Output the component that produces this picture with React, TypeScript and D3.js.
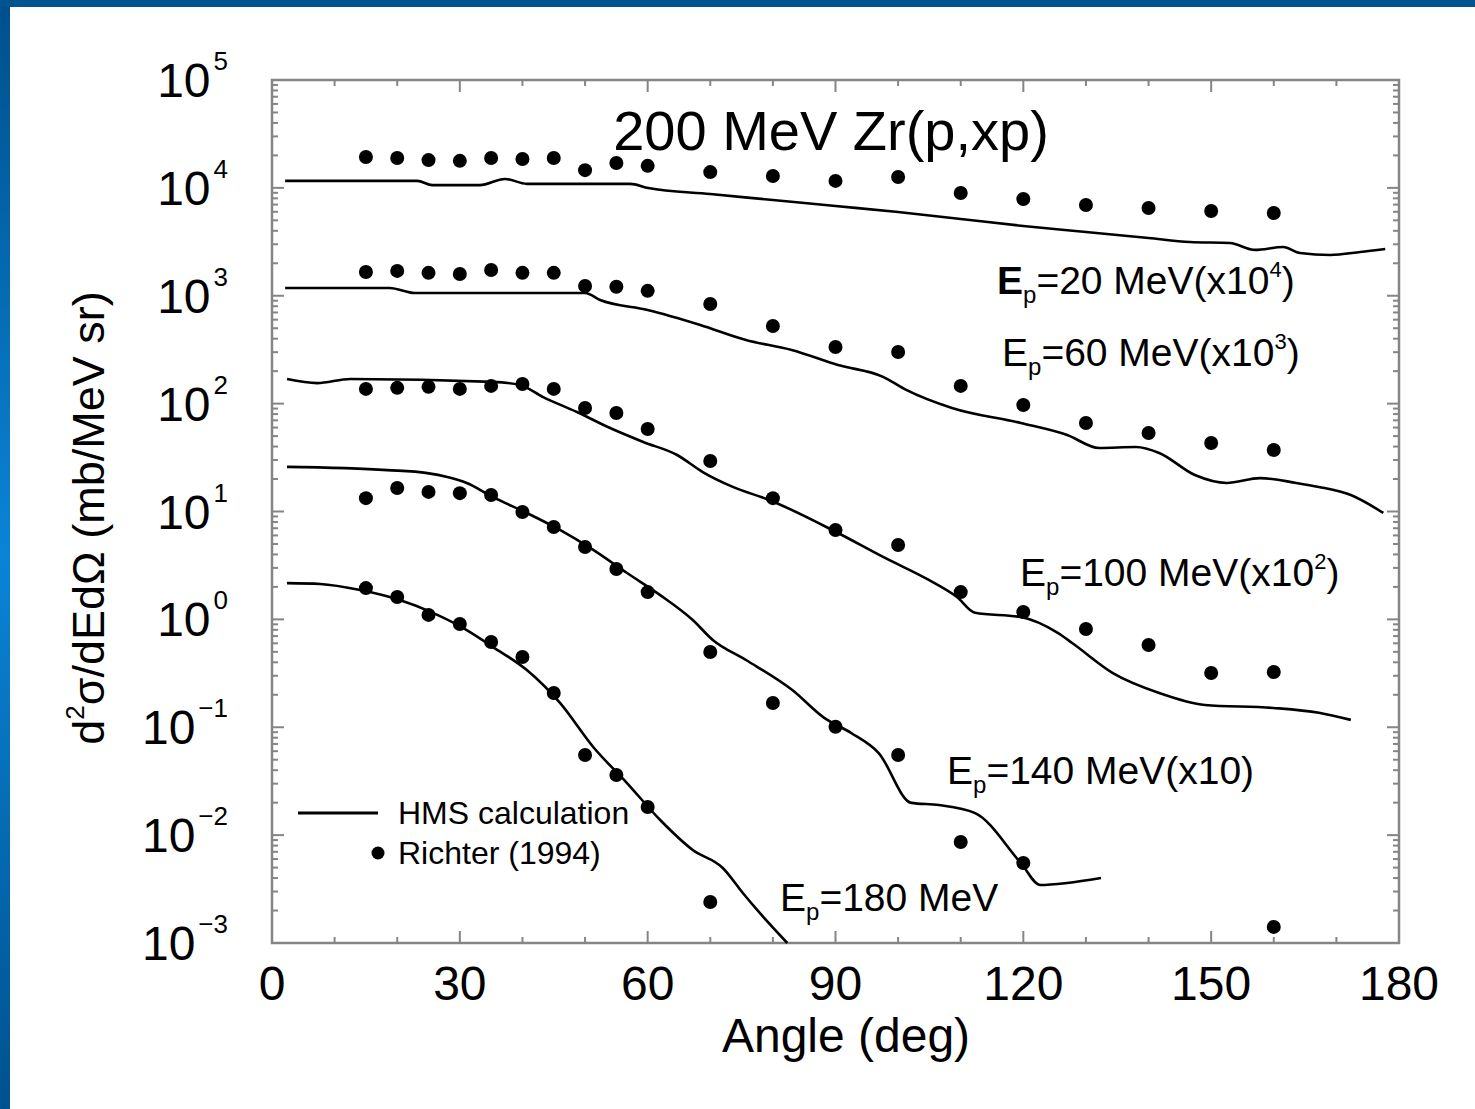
import React, { useEffect, useRef } from 'react';
import * as d3 from 'd3';

// Richter (1994) data, already multiplied by the plotted factors
const angles = [15, 20, 25, 30, 35, 40, 45, 50, 55, 60, 70, 80, 90, 100, 110, 120, 130, 140, 150, 160];
const richter20 = [1.93e4, 1.89e4, 1.81e4, 1.78e4, 1.89e4, 1.85e4, 1.89e4, 1.46e4, 1.70e4, 1.60e4, 1.40e4, 1.29e4, 1.16e4, 1.26e4, 8.97e3, 7.89e3, 6.94e3, 6.51e3, 6.10e3, 5.85e3];
const richter60 = [1.66e3, 1.70e3, 1.63e3, 1.59e3, 1.73e3, 1.63e3, 1.63e3, 1.23e3, 1.21e3, 1.11e3, 838, 524, 335, 301, 146, 97.1, 66.1, 53.4, 43.2, 37.2];
const richter100 = [137, 140, 143, 137, 146, 152, 137, 91.1, 81.9, 58.2, 29.4, 13.3, 6.74, 4.89, 1.79, 1.17, 0.814, 0.579, 0.318, 0.325];
const angles140 = [15, 20, 25, 30, 35, 40, 45, 50, 55, 60, 70, 80, 90, 100, 110, 120, 160];
const richter140 = [13.3, 16.5, 15.2, 14.8, 14.2, 9.89, 7.18, 4.69, 2.93, 1.79, 0.498, 0.168, 0.101, 0.0553, 0.00864, 0.00552, 0.00141];
const angles180 = [15, 20, 25, 30, 35, 40, 45, 50, 55, 60, 70];
const richter180 = [1.95, 1.61, 1.10, 0.906, 0.617, 0.448, 0.208, 0.0553, 0.0361, 0.0182, 0.00240];

// HMS calculation curves: [angle, value]
const hms20 = [[2.1, 1.16e4], [23.2, 1.16e4], [25.6, 1.06e4], [33.2, 1.06e4], [37.2, 1.21e4], [40.7, 1.09e4], [57.2, 1.09e4], [60.1, 9.97e3], [70, 8.77e3], [80, 7.72e3], [90, 6.79e3], [100, 5.97e3], [110, 5.15e3], [120, 4.43e3], [130, 3.90e3], [140, 3.43e3], [146.6, 3.15e3], [153, 3.08e3], [157, 2.66e3], [161.5, 2.83e3], [164.2, 2.49e3], [169, 2.39e3], [173.8, 2.54e3], [177.8, 2.71e3]];
const hms60 = [[2.1, 1180], [18.8, 1180], [22.8, 1060], [50, 1060], [52.4, 913], [60, 738], [68.4, 536], [75.7, 389], [83, 314], [90.4, 228], [97.6, 177], [101.3, 134], [108.6, 91.1], [119.6, 66.1], [127, 51.2], [132.1, 38.8], [138, 39.6], [141.7, 34.9], [147.4, 21.8], [152.5, 18.4], [157.8, 20.4], [163.6, 18.4], [167.2, 16.9], [172.3, 14.2], [177.5, 9.69]];
const hms100 = [[2.4, 169], [7.2, 155], [12.5, 169], [35.3, 159], [39.6, 149], [43.3, 115], [48.7, 83.6], [54, 59.4], [59.3, 44.1], [64.7, 33.4], [68.8, 23.2], [73.6, 16.9], [79.4, 12.8], [90.4, 6.32], [97.6, 3.79], [104.9, 2.32], [109.4, 1.61], [112.3, 1.15], [119.6, 1.05], [125.5, 0.748], [127.8, 0.604], [134.3, 0.318], [141.7, 0.208], [149, 0.161], [159.9, 0.151], [167.2, 0.136], [172.3, 0.117]];
const hms140 = [[2.4, 25.9], [18.4, 24.2], [24.8, 22.7], [28, 20.9], [31.1, 18.4], [35.3, 13.6], [40.7, 9.69], [46, 6.74], [51.3, 4.40], [56.7, 2.69], [62, 1.68], [67.2, 0.987], [70.4, 0.644], [75.7, 0.420], [83.1, 0.221], [88.2, 0.122], [92.5, 0.0885], [96.9, 0.0577], [102.1, 0.0199], [106.5, 0.0190], [112.3, 0.0160], [119.6, 0.00552], [122.7, 0.00345], [127, 0.00360], [132.4, 0.00400]];
const hms180 = [[2.4, 2.17], [7.7, 2.13], [14.1, 1.87], [20.4, 1.51], [25.7, 1.15], [31.1, 0.797], [35.3, 0.554], [40.7, 0.339], [46, 0.168], [51.3, 0.0656], [56.7, 0.0304], [62, 0.0138], [67.2, 0.00728], [72, 0.00496], [75.2, 0.00291], [77.9, 0.00190], [82.3, 0.001]];

const xTicks = [0, 30, 60, 90, 120, 150, 180];
const yExponents = [-3, -2, -1, 0, 1, 2, 3, 4, 5];

const W = 1475;
const H = 1109;
const FONT = '"Liberation Sans", Arial, Helvetica, sans-serif';

export default function App() {
  const ref = useRef<SVGSVGElement>(null);

  useEffect(() => {
    const svg = d3.select(ref.current);
    svg.selectAll('*').remove();

    const x = d3.scaleLinear().domain([0, 180]).range([272, 1399]);
    const y = d3.scaleLog().domain([1e-3, 1e5]).range([943, 80]);
    const [left, right] = x.range();
    const [bottom, top] = y.range();

    svg.append('rect').attr('width', W).attr('height', H).attr('fill', '#fff');

    // blue slide frame (top + left edge)
    const grad = svg.append('defs').append('linearGradient')
      .attr('id', 'sideBlue').attr('x1', 0).attr('y1', 0).attr('x2', 0).attr('y2', 1);
    grad.append('stop').attr('offset', '0%').attr('stop-color', '#004f8c');
    grad.append('stop').attr('offset', '50%').attr('stop-color', '#0a84d6');
    grad.append('stop').attr('offset', '100%').attr('stop-color', '#00518f');
    svg.append('rect').attr('x', 0).attr('y', 0).attr('width', 10).attr('height', H).attr('fill', 'url(#sideBlue)');
    svg.append('rect').attr('x', 0).attr('y', 0).attr('width', W).attr('height', 7).attr('fill', '#00548f');

    // ticks, pointing inward on all four sides
    const axisColor = '#858585';
    const tg = svg.append('g').attr('stroke', axisColor).attr('stroke-width', 2);
    d3.range(10, 180, 10).forEach(d => {
      const len = d % 30 === 0 ? 12 : 6;
      tg.append('line').attr('x1', x(d)).attr('x2', x(d)).attr('y1', bottom).attr('y2', bottom - len);
      tg.append('line').attr('x1', x(d)).attr('x2', x(d)).attr('y1', top).attr('y2', top + len);
    });
    yExponents.forEach(e => {
      const v = Math.pow(10, e);
      tg.append('line').attr('x1', left).attr('x2', left + 12).attr('y1', y(v)).attr('y2', y(v));
      tg.append('line').attr('x1', right).attr('x2', right - 12).attr('y1', y(v)).attr('y2', y(v));
      if (e < 5) {
        d3.range(2, 10).forEach(k => {
          const m = k * v;
          tg.append('line').attr('x1', left).attr('x2', left + 6).attr('y1', y(m)).attr('y2', y(m));
          tg.append('line').attr('x1', right).attr('x2', right - 6).attr('y1', y(m)).attr('y2', y(m));
        });
      }
    });
    svg.append('rect')
      .attr('x', left).attr('y', top).attr('width', right - left).attr('height', bottom - top)
      .attr('fill', 'none').attr('stroke', axisColor).attr('stroke-width', 2.5);

    // tick labels
    svg.append('g').selectAll('text').data(xTicks).join('text')
      .attr('x', d => x(d)).attr('y', 1000)
      .attr('text-anchor', 'middle').attr('font-family', FONT).attr('font-size', 48)
      .text(d => d);

    yExponents.forEach(e => {
      const t = svg.append('text')
        .attr('x', 228).attr('y', y(Math.pow(10, e)) + 17)
        .attr('text-anchor', 'end').attr('font-family', FONT).attr('font-size', 48);
      t.append('tspan').text('10');
      t.append('tspan').attr('font-size', 26).attr('dx', 3).attr('dy', -27)
        .text(e < 0 ? `\u2212${-e}` : `${e}`);
    });

    // axis titles
    svg.append('text')
      .attr('x', 846).attr('y', 1052).attr('text-anchor', 'middle')
      .attr('font-family', FONT).attr('font-size', 48)
      .text('Angle (deg)');

    const yt = svg.append('text')
      .attr('transform', 'translate(104,518) rotate(-90)')
      .attr('text-anchor', 'middle').attr('font-family', FONT).attr('font-size', 45);
    yt.append('tspan').text('d');
    yt.append('tspan').attr('font-size', 26).attr('dy', -20).text('2');
    yt.append('tspan').attr('dy', 20).text('\u03C3/dEd\u03A9 (mb/MeV sr)');

    svg.append('text')
      .attr('x', 831).attr('y', 150).attr('text-anchor', 'middle')
      .attr('font-family', FONT).attr('font-size', 56)
      .text('200 MeV Zr(p,xp)');

    // curves
    const line = d3.line<number[]>()
      .x(d => x(d[0]))
      .y(d => y(d[1]))
      .curve(d3.curveMonotoneX);
    [hms20, hms60, hms100, hms140, hms180].forEach(s => {
      svg.append('path').attr('d', line(s)).attr('fill', 'none')
        .attr('stroke', '#000').attr('stroke-width', 2.6).attr('stroke-linejoin', 'round');
    });

    // data points
    const sets = [
      [angles, richter20], [angles, richter60], [angles, richter100],
      [angles140, richter140], [angles180, richter180],
    ];
    sets.forEach(([a, v]) => {
      svg.append('g').selectAll('circle').data(a).join('circle')
        .attr('cx', d => x(d)).attr('cy', (d, i) => y(v[i])).attr('r', 7).attr('fill', '#000');
    });

    // series labels
    const epLabel = (px, py, body, sup, boldE) => {
      const t = svg.append('text').attr('x', px).attr('y', py)
        .attr('font-family', FONT).attr('font-size', 39);
      t.append('tspan').attr('font-weight', boldE ? 'bold' : 'normal').text('E');
      t.append('tspan').attr('font-size', 24).attr('dy', 9).text('p');
      t.append('tspan').attr('dy', -9).text(body);
      if (sup) {
        t.append('tspan').attr('font-size', 22).attr('dy', -17).text(sup);
        t.append('tspan').attr('dy', 17).text(')');
      }
    };
    epLabel(997, 294, '=20 MeV(x10', '4', true);
    epLabel(1002, 366, '=60 MeV(x10', '3', false);
    epLabel(1020, 586, '=100 MeV(x10', '2', false);
    epLabel(947, 784, '=140 MeV(x10)', null, false);
    epLabel(780, 911, '=180 MeV', null, false);

    // legend
    svg.append('line').attr('x1', 298).attr('x2', 378).attr('y1', 813).attr('y2', 813)
      .attr('stroke', '#000').attr('stroke-width', 3);
    svg.append('circle').attr('cx', 378).attr('cy', 853).attr('r', 6.5).attr('fill', '#000');
    svg.append('text').attr('x', 398).attr('y', 824).attr('font-family', FONT).attr('font-size', 32)
      .text('HMS calculation');
    svg.append('text').attr('x', 398).attr('y', 864).attr('font-family', FONT).attr('font-size', 32)
      .text('Richter (1994)');
  }, []);

  return (
    <div style={{ position: 'absolute', left: 0, top: 0, width: W, height: H }}>
      <svg ref={ref} width={W} height={H} style={{ display: 'block' }} />
    </div>
  );
}
